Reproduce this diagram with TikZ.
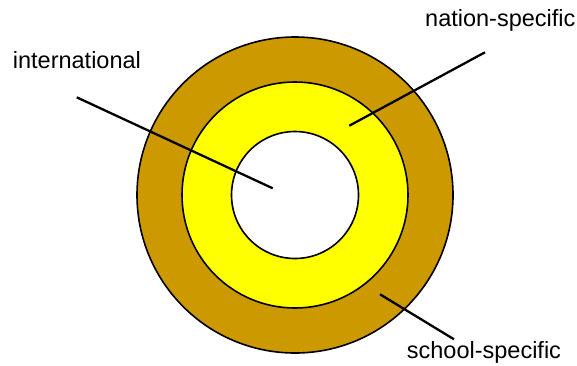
\documentclass[tikz,border=0pt]{standalone}
\usepackage{fontspec}
\setmainfont{Liberation Sans}
\definecolor{ochre}{RGB}{204,153,0}
\definecolor{lemon}{RGB}{255,255,0}

\begin{document}
\begin{tikzpicture}[x=1pt,y=-1pt,
			ring/.style={draw=black, line width=1.6pt},
			pointer/.style={draw=black, line width=2.3pt},
			tag/.style={inner sep=0pt, anchor=base west, font=\fontsize{23.5}{28}\selectfont}]
			\useasboundingbox (0,0) rectangle (577,365);
			\coordinate (centre) at (295,195);
			% three rings, outside in
			\filldraw[ring, fill=ochre] (centre) circle (158pt);
			\filldraw[ring, fill=lemon] (centre) circle (113pt);
			\filldraw[ring, fill=white] (centre) circle (63.5pt);
			% labels
			\node[tag] (intl) at (12.7,68.3) {international};
			\node[tag] (nation) at (425,26.7) {nation-specific};
			\node[tag] (school) at (406.7,358.3) {school-specific};
			% pointer ends
			\coordinate (intl-tail) at (76.7,97.3);
			\coordinate (intl-tip) at (272.7,188.3);
			\coordinate (nation-tail) at (485,52.3);
			\coordinate (nation-tip) at (349.3,125.7);
			\coordinate (school-tail) at (454,339.3);
			\coordinate (school-tip) at (380,294.3);
			\draw[pointer] (intl-tail) -- (intl-tip);
			\draw[pointer] (nation-tail) -- (nation-tip);
			\draw[pointer] (school-tail) -- (school-tip);
		\end{tikzpicture}
\end{document}
